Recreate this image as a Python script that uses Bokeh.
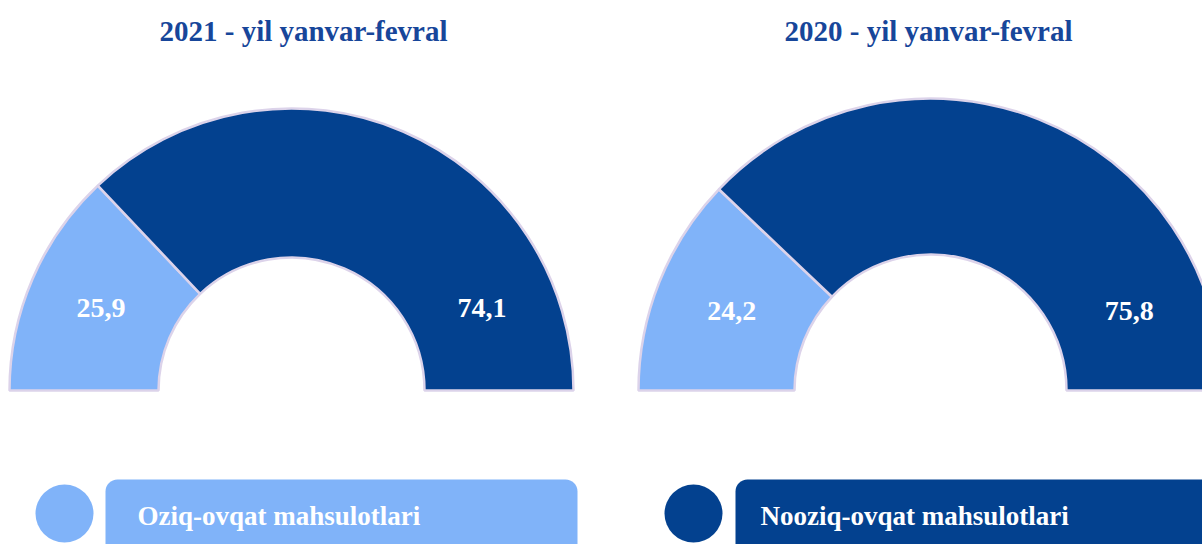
import math
from bokeh.plotting import figure
from bokeh.models import Range1d, BoxAnnotation
from bokeh.core.properties import value
from bokeh.embed import file_html
from bokeh.resources import INLINE

# ---- data ----
titles = ["2021 - yil yanvar-fevral", "2020 - yil yanvar-fevral"]
categories = ["Oziq-ovqat mahsulotlari", "Nooziq-ovqat mahsulotlari"]
food_share = [25.9, 24.2]
nonfood_share = [74.1, 75.8]
food_labels = ["25,9", "24,2"]
nonfood_labels = ["74,1", "75,8"]

# ---- style ----
LIGHT = "#80b3f9"
DARK = "#03418f"
STROKE = "#dcd3ea"
TITLE_COLOR = "#17469a"
FONT = "Liberation Serif"

W, H = 1202, 544
p = figure(width=W, height=H, output_backend="svg", toolbar_location=None,
           x_range=Range1d(0, W), y_range=Range1d(544 - H, 544),
           min_border=0)
p.axis.visible = False
p.grid.visible = False
p.outline_line_color = None
p.background_fill_color = "white"
p.border_fill_color = "white"

# layout of the two gauges (page-pixel based)
centers_x = [291, 930]
center_y = 544 - 390
r_outer = [282, 292]
r_inner = [133, 136]
title_x = [303, 928]
title_y = 544 - 30

for i in range(2):
    cx = centers_x[i]
    f = food_share[i] / 100.0
    nf = nonfood_share[i] / 100.0
    split = math.pi * (1 - f)
    p.annular_wedge(x=[cx], y=[center_y], inner_radius=r_inner[i], outer_radius=r_outer[i],
                    start_angle=[split], end_angle=[math.pi],
                    fill_color=LIGHT, line_color=STROKE, line_width=2.5)
    p.annular_wedge(x=[cx], y=[center_y], inner_radius=r_inner[i], outer_radius=r_outer[i],
                    start_angle=[math.pi - math.pi * (f + nf)], end_angle=[split],
                    fill_color=DARK, line_color=STROKE, line_width=2.5)
    rm = (r_inner[i] + r_outer[i]) / 2.0
    a = math.pi - math.pi * f / 2.0
    lx = cx + rm * math.cos(a)
    ly = center_y + rm * math.sin(a)
    rx = cx - rm * math.cos(a)
    p.text(x=[lx, rx], y=[ly, ly], text=[food_labels[i], nonfood_labels[i]],
           text_align="center", text_baseline="middle", text_color="white",
           text_font=value(FONT), text_font_style="bold", text_font_size="28px")
    p.text(x=[title_x[i]], y=[title_y], text=[titles[i]],
           text_align="center", text_baseline="middle", text_color=TITLE_COLOR,
           text_font=value(FONT), text_font_style="bold", text_font_size="29px")

# ---- legend ----
leg_circle_x = [64, 693]
leg_y = 544 - 513
leg_box_left = [105, 735]
leg_box_right = [577, 1230]
leg_text_x = [137, 760]
leg_colors = [LIGHT, DARK]
for i in range(2):
    box = BoxAnnotation(left=leg_box_left[i], right=leg_box_right[i],
                        top=544 - 479, bottom=-40,
                        fill_color=leg_colors[i], fill_alpha=1.0,
                        line_color=None, border_radius=12, level="underlay")
    p.add_layout(box)
    p.scatter(x=[leg_circle_x[i]], y=[leg_y], size=58, marker="circle",
              fill_color=leg_colors[i], line_color=None)
    p.text(x=[leg_text_x[i]], y=[544 - 515], text=[categories[i]],
           text_align="left", text_baseline="middle", text_color="white",
           text_font=value(FONT), text_font_style="bold", text_font_size="27px")

open("out.html", "w").write(file_html(p, INLINE))
